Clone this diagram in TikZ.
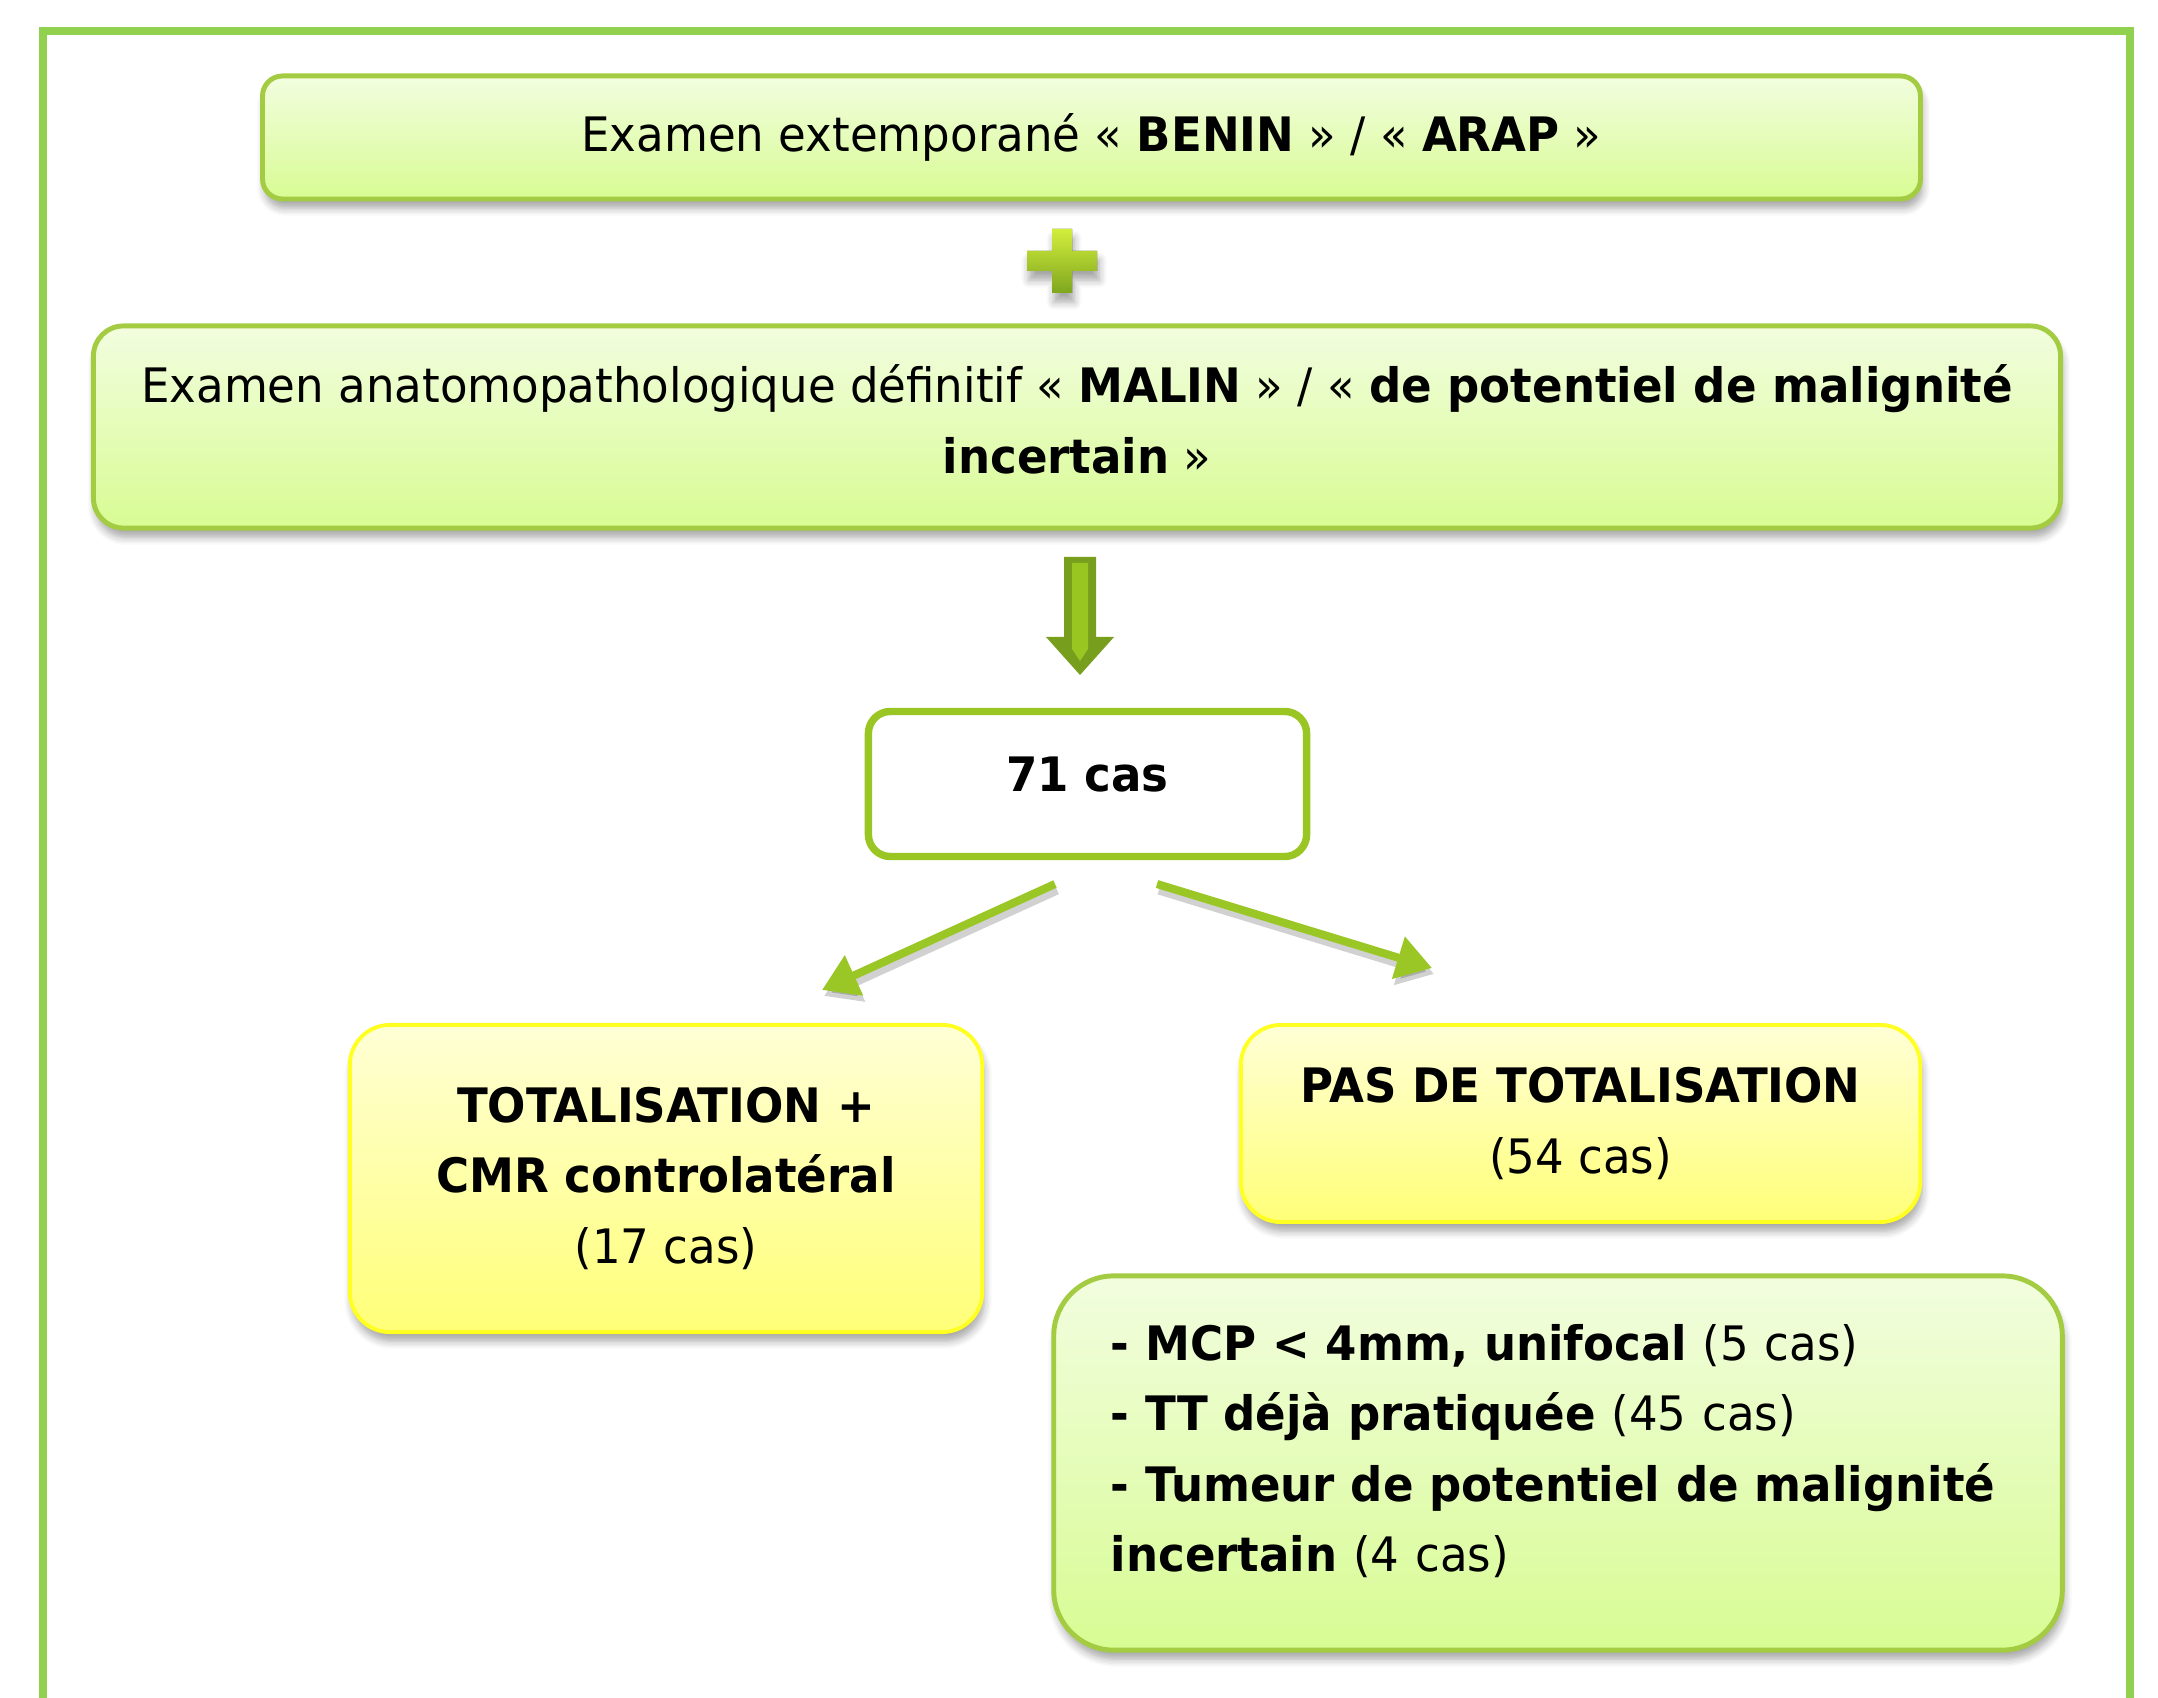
\documentclass[tikz,border=0pt]{standalone}
\usepackage{fontspec}
\setmainfont{DejaVu Sans}[FakeStretch=0.95]
\usetikzlibrary{shadows.blur,arrows.meta,calc}
\definecolor{frameg}{HTML}{92D050}
\definecolor{boxg}{HTML}{A3CC42}
\definecolor{gtop}{HTML}{F2FDDF}
\definecolor{gbot}{HTML}{D8FC93}
\definecolor{ytop}{HTML}{FFFFD6}
\definecolor{ybot}{HTML}{FFFF78}
\definecolor{yborder}{HTML}{FFFF22}
\definecolor{arrg}{HTML}{9AC726}
\definecolor{darkg}{HTML}{789E1E}
\definecolor{lightg}{HTML}{9AC622}
\definecolor{ring}{HTML}{99C623}
\definecolor{plustop}{HTML}{D2EE3C}
\definecolor{plusbot}{HTML}{7FA61E}
\begin{document}
\begin{tikzpicture}[x=0.01cm,y=-0.01cm,
  every node/.style={font=\fontsize{13.5pt}{20pt}\selectfont, text=black, inner sep=0pt},
  sh/.style={blur shadow={shadow xshift=0.6pt, shadow yshift=-2.6pt, shadow blur steps=6, shadow opacity=35}},
  gbox/.style={draw=boxg, line width=1.4pt, rounded corners=#1, top color=gtop, bottom color=gbot, sh, align=center},
  ybox/.style={draw=yborder, line width=1.1pt, rounded corners=#1, top color=ytop, bottom color=ybot, sh, align=center},
  cbox/.style={draw=ring, line width=2.1pt, rounded corners=0.22cm, fill=white, align=center},
  conn/.style={draw=arrg, line width=2.3pt, -{Triangle[length=10pt,width=12pt]}},
  connsh/.style={draw=black, opacity=0.18, line width=2.6pt, -{Triangle[length=10pt,width=12pt]}}
]
\useasboundingbox (0,0) rectangle (2158,1698);
% outer frame (open at the bottom, beyond the page)
\draw[frameg, line width=0.085cm] (43,1760) -- (43,31) -- (2130,31) -- (2130,1760);

% boxes
\node[gbox=0.2cm, minimum width=16.57cm, minimum height=1.23cm] (top) at (1091.5,137.5)
  {Examen extemporané « \textbf{BENIN} » / « \textbf{ARAP} »};

\node[gbox=0.3cm, minimum width=19.66cm, minimum height=2.02cm] (def) at (1077,427)
  {Examen anatomopathologique définitif « \textbf{MALIN} » / « \textbf{de potentiel de malignité}\\\textbf{incertain} »\rule[-0.16cm]{0pt}{0pt}};

\node[cbox, minimum width=4.38cm, minimum height=1.45cm, text depth=0.2cm] (cas) at (1087.5,784)
  {\textbf{71 cas}};

\node[ybox=0.4cm, minimum width=6.32cm, minimum height=3.07cm] (tot) at (666,1178.5)
  {\textbf{TOTALISATION +}\\\textbf{CMR controlatéral}\\(17 cas)};

\node[ybox=0.4cm, minimum width=6.79cm, minimum height=1.97cm] (pas) at (1580.5,1123.5)
  {\textbf{PAS DE TOTALISATION}\\(54 cas)};

\node[gbox=0.6cm, minimum width=10.08cm, minimum height=3.74cm, align=left,
      text width=8.94cm, inner xsep=0.57cm] (cond) at (1558,1463)
  {\textbf{- MCP < 4mm, unifocal} (5 cas)\\
   \textbf{- TT déjà pratiquée} (45 cas)\\
   \textbf{- Tumeur de potentiel de malignité}\\
   \textbf{incertain} (4 cas)\rule[-0.3cm]{0pt}{0pt}};

% plus sign
\fill[top color=plustop, bottom color=plusbot, sh]
  (1052,229) -- (1072,229) -- (1072,251) -- (1097,251) -- (1097,271) -- (1072,271)
  -- (1072,293) -- (1052,293) -- (1052,271) -- (1027,271) -- (1027,251) -- (1052,251) -- cycle;

% big down arrow
\coordinate (dA) at (1080,557);
\coordinate (dB) at (1080,675);
\fill[darkg] ($(dA)+(-16,0)$) -- ($(dA)+(16,0)$) -- ($(dA)+(16,80)$) -- ($(dA)+(34,80)$) -- (dB)
  -- ($(dA)+(-34,80)$) -- ($(dA)+(-16,80)$) -- cycle;
\fill[lightg] ($(dA)+(-8,6)$) -- ($(dA)+(8,6)$) -- ($(dA)+(8,92)$) -- ($(dA)+(0,104)$) -- ($(dA)+(-8,92)$) -- cycle;

% diagonal arrows
\coordinate (lS) at (1055,884);
\coordinate (lE) at (822,990);
\coordinate (rS) at (1157,884);
\coordinate (rE) at (1432,968);
\draw[connsh] ($(lS)+(2,6)$) -- ($(lE)+(2,6)$);
\draw[connsh] ($(rS)+(2,6)$) -- ($(rE)+(2,6)$);
\draw[conn] (lS) -- (lE);
\draw[conn] (rS) -- (rE);
\end{tikzpicture}
\end{document}
